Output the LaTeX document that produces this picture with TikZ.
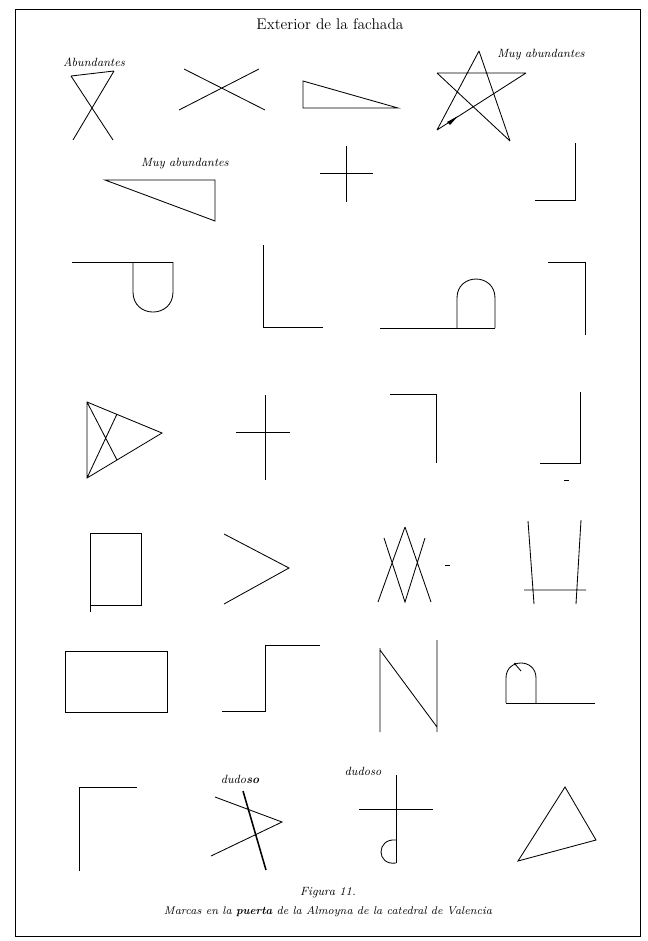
\documentclass[tikz,border=0pt]{standalone}
\usepackage{tikz}
\usetikzlibrary{calc}
\tikzset{
  signo/.style={line width=0.6pt, line join=miter},
  rotulo/.style={font=\fontsize{8.5}{10}\selectfont\itshape, inner sep=0pt},
}

\begin{document}
\begin{tikzpicture}[x=0.025cm, y=-0.025cm]
  \useasboundingbox (0,0) rectangle (647,941);
  \draw[line width=0.5pt] (15,9) rectangle (640,936);
  \node[font=\fontsize{11}{13}\selectfont] (titulo) at (330,24) {Exterior de la fachada};

  % fila 1
  \node[rotulo] (abund) at (94,62) {Abundantes};
  \draw[signo] (71,76) -- (114,71) (71,76) -- (113,140) (114,71) -- (73,140);
  \draw[signo] (184,69) -- (265,110) (259,69) -- (179,110);
  \draw[signo] (303,81) -- (303,108) -- (398,108) -- cycle;
  \draw[signo] (479,51) -- (437,130) (479,51) -- (510,141)
               (437,73) -- (526,73) (437,73) -- (510,141) (526,73) -- (437,130);
  \fill (447,122) -- (458,116) -- (450,125) -- cycle;
  \node[rotulo] (muyabund1) at (541,55) {Muy abundantes};

  % fila 2
  \node[rotulo] (muyabund2) at (185,164) {Muy abundantes};
  \draw[signo] (105,180) -- (215,180) -- (215,221) -- cycle;
  \draw[signo] (346,146) -- (346,202) (320,173) -- (373,173);
  \draw[signo] (575,143) -- (575,200) -- (535,200);

  % fila 3
  \draw[signo] (72,262) -- (173,262);
  \draw[signo] (133,262) -- (133,292) .. controls (133,318.7) and (173,318.7) .. (173,292) -- (173,262);
  \draw[signo] (263,245) -- (263,327) -- (323,327);
  \draw[signo] (380,328) -- (495,328);
  \draw[signo] (457,328) -- (457,298) .. controls (457,272.7) and (495,272.7) .. (495,298) -- (495,328);
  \draw[signo] (548,262) -- (585,262) -- (585,335);

  % fila 4
  \draw[signo] (87,402) -- (162,433) -- (87,478) -- cycle
               (87,402) -- (117,460) (87,478) -- (117,414);
  \draw[signo] (265,395) -- (265,480) (236,432) -- (290,432);
  \draw[signo] (390,394) -- (436,394) -- (436,463);
  \draw[signo] (580,392) -- (580,463) -- (540,463);
  \draw[signo] (564,480) -- (569,480);

  % fila 5
  \draw[signo] (90,612) -- (90,533) -- (141,533) -- (141,605) -- (90,605);
  \draw[signo] (224,534) -- (289,568) -- (224,604);
  \draw[signo] (405,527) -- (378,602) (405,527) -- (431,602)
               (384,538) -- (405,602) -- (425,538);
  \draw[signo] (445,565) -- (450,565);
  \draw[signo] (528,521) -- (534,604) (581,520) -- (576,604) (524,590) -- (586,590);

  % fila 6
  \draw[signo] (65,651) rectangle (167,712);
  \draw[signo] (222,711) -- (265,711) -- (265,645) -- (320,645);
  \draw[signo] (380,732) -- (380,648) (380,650) -- (437,727) (437,640) -- (437,732);
  \draw[signo] (506,703) -- (595,703);
  \draw[signo] (506,703) -- (506,678) .. controls (506,658) and (536,658) .. (536,678) -- (536,703);
  \draw[signo] (515,664) -- (521,671);
  \fill (515,664) circle (1.3);

  % fila 7
  \draw[signo] (79,871) -- (79,787) -- (137,787);
  \node[rotulo] (dudoso1) at (240,779) {dudo\textbf{so}};
  \draw[line width=1.1pt] (243,791) -- (266,870);
  \draw[signo] (215,797) -- (282,822) -- (211,856);
  \node[rotulo] (dudoso2) at (363,771) {dudoso};
  \draw[signo] (396,775) -- (396,863) (359,809) -- (433,809);
  \draw[signo] (396,840) .. controls (376,838) and (376,866) .. (396,863);
  \draw[signo] (565,787) -- (596,840) -- (518,861) -- cycle;

  % pie
  \node[rotulo] (figura) at (328,893) {Figura 11.};
  \node[rotulo, font=\fontsize{8}{10}\selectfont\itshape] (pie) at (328,912) {Marcas en la \textbf{puerta} de la Almoyna de la catedral de Valencia};
\end{tikzpicture}
\end{document}
